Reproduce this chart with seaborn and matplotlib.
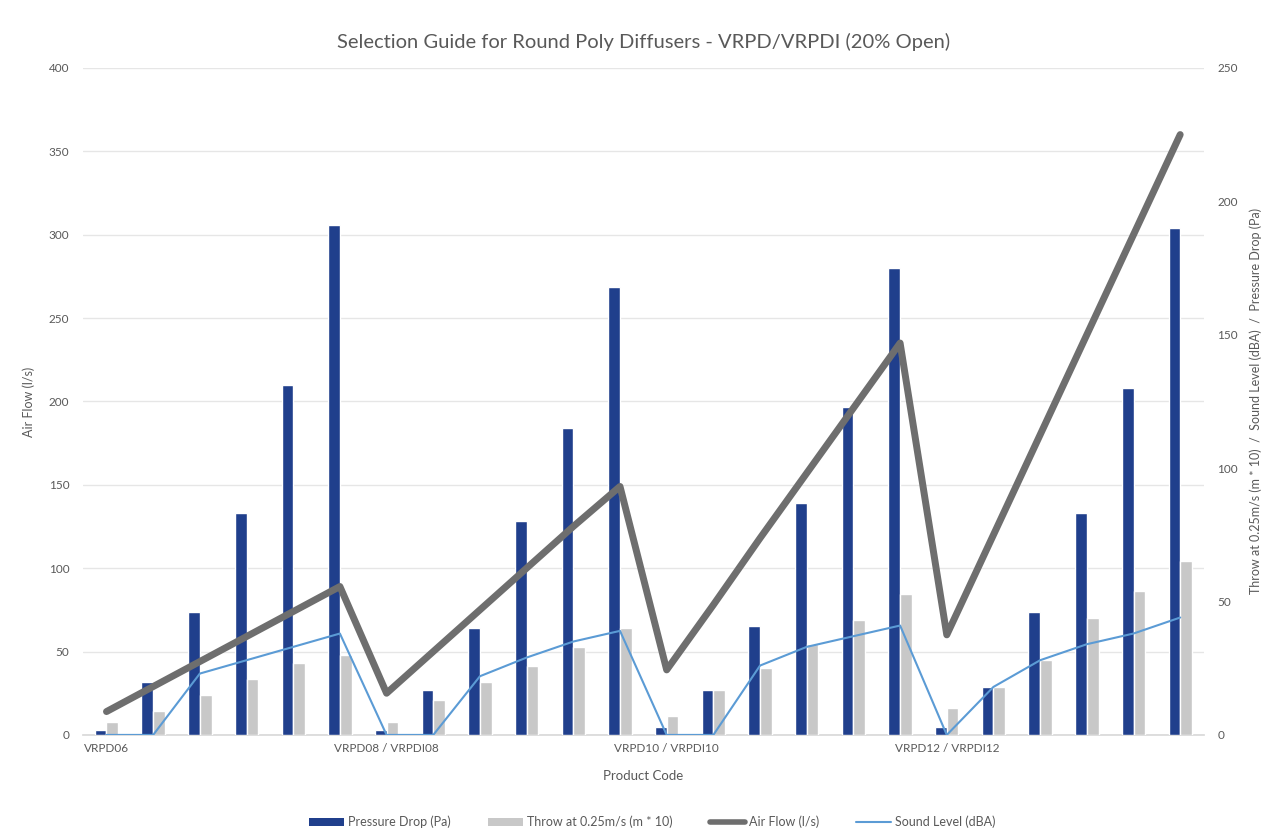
import matplotlib
matplotlib.use("Agg")
import matplotlib.pyplot as plt
from matplotlib.lines import Line2D
from matplotlib.patches import Patch
import seaborn as sns
import pandas as pd
import numpy as np

# ---- data ----
tick_labels = ["VRPD06", "", "", "", "", "",
               "VRPD08 / VRPDI08", "", "", "", "", "",
               "VRPD10 / VRPDI10", "", "", "", "", "",
               "VRPD12 / VRPDI12", "", "", "", "", ""]
pressure_drop = [2, 20, 46, 83, 131, 191,
                 2, 17, 40, 80, 115, 168,
                 3, 17, 41, 87, 123, 175,
                 3, 18, 46, 83, 130, 190]
throw = [5, 9, 15, 21, 27, 30,
         5, 13, 20, 26, 33, 40,
         7, 17, 25, 34, 43, 53,
         10, 18, 28, 44, 54, 65]
air_flow = [14, 29, 44, 59, 74, 89,
            25, 50, 75, 100, 125, 149,
            39, 78, 118, 157, 196, 235,
            60, 120, 180, 240, 300, 360]
sound_level = [0, 0, 23, 28, 33, 38,
               0, 0, 22, 29, 35, 39,
               0, 0, 26, 33, 37, 41,
               0, 18, 28, 34, 38, 44]
series_names = ["Pressure Drop (Pa)", "Throw at 0.25m/s (m * 10)",
                "Air Flow (l/s)", "Sound Level (dBA)"]

idx = list(range(len(air_flow)))
bars_df = pd.DataFrame({
    "idx": idx * 2,
    "value": pressure_drop + throw,
    "series": [series_names[0]] * len(idx) + [series_names[1]] * len(idx),
})

sns.set_theme(style="white")
plt.rcParams["font.family"] = ["Lato", "DejaVu Sans"]
txt = "#595959"

fig = plt.figure(figsize=(12.79, 8.38), dpi=100)
ax = fig.add_axes([0.065, 0.123, 0.876, 0.796])  # left axis (air flow scale, gridlines)
ax2 = ax.twinx()   # bars, right scale
ax3 = ax.twinx()   # air flow line
ax4 = ax.twinx()   # sound line

navy = "#203f8c"
lgrey = "#c8c8c8"
dgrey = "#6e6e6e"
blue = "#5b9bd5"

sns.barplot(data=bars_df, x="idx", y="value", hue="series", ax=ax2,
            palette=[navy, lgrey], width=0.5, dodge=True, legend=False,
            saturation=1)

sns.lineplot(x=idx, y=air_flow, ax=ax3, color=dgrey, linewidth=5,
             solid_joinstyle="round", solid_capstyle="round")
sns.lineplot(x=idx, y=sound_level, ax=ax4, color=blue, linewidth=1.5)

for a in (ax, ax2, ax3, ax4):
    for s in a.spines.values():
        s.set_visible(False)
    a.set_xlabel("")

ax.set_ylim(0, 400)
ax.set_yticks(np.arange(0, 401, 50))
ax.yaxis.grid(True, color="#e6e6e6", linewidth=1)
ax.tick_params(axis="y", labelsize=8.5, labelcolor=txt, length=0, pad=10)
ax.set_ylabel("Air Flow (l/s)", fontsize=9, color=txt, labelpad=10)

ax3.set_ylim(0, 400)
ax3.set_yticks([])
ax3.set_ylabel("")
ax4.set_ylim(0, 250)
ax4.set_yticks([])
ax4.set_ylabel("")

ax2.set_ylim(0, 250)
ax2.set_yticks(np.arange(0, 251, 50))
ax2.tick_params(axis="y", labelsize=8.5, labelcolor=txt, length=0, pad=10)
ax2.set_ylabel("Throw at 0.25m/s (m * 10)  /  Sound Level (dBA)  /  Pressure Drop (Pa)",
               fontsize=9, color=txt, labelpad=8)

# shared x axis: set categorical ticks once, at the end
ax.set_xlim(-0.5, len(idx) - 0.5)
ax.set_xticks(idx)
ax.set_xticklabels(tick_labels, fontsize=8.5, color=txt)
ax.tick_params(axis="x", length=0, pad=6, labelbottom=True)
ax.spines["bottom"].set_visible(True)
ax.spines["bottom"].set_color("#d9d9d9")
ax.set_xlabel("Product Code", fontsize=9.5, color=txt, labelpad=11)

ax.set_title("Selection Guide for Round Poly Diffusers - VRPD/VRPDI (20% Open)",
             fontsize=14.5, color=txt, pad=14)

handles = [Patch(facecolor=navy, edgecolor="none"),
           Patch(facecolor=lgrey, edgecolor="none"),
           Line2D([0], [0], color=dgrey, linewidth=4),
           Line2D([0], [0], color=blue, linewidth=1.5)]
fig.legend(handles, series_names, loc="center", bbox_to_anchor=(0.51, 0.019),
           ncol=4, frameon=False, fontsize=9, labelcolor=txt,
           handlelength=2.8, handleheight=0.6, columnspacing=3, handletextpad=0.3)

fig.savefig("out.png", dpi=100, facecolor="white")
